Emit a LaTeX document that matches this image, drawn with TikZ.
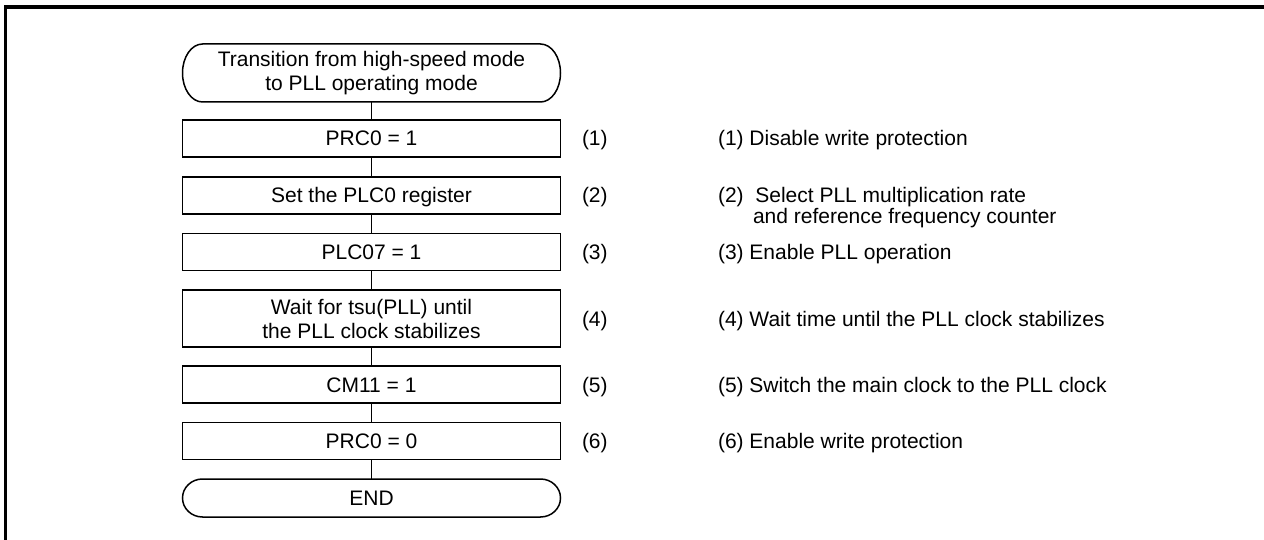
\documentclass[tikz,border=0pt]{standalone}
\usepackage{fontspec}
\setmainfont{Liberation Sans}
\begin{document}
\begin{tikzpicture}[x=1pt,y=1pt,
  every node/.style={font=\fontsize{21pt}{24pt}\selectfont, inner sep=0pt, outer sep=0pt},
  ln/.style={line width=1.5pt},
  stepbox/.style={draw, line width=1.5pt, minimum width=378pt, minimum height=37pt, text height=15pt, text depth=0pt},
  tallbox/.style={draw, line width=1.5pt, minimum width=378pt, minimum height=57pt, align=center},
  termnode/.style={minimum width=378pt, align=center},
  lab/.style={anchor=base west},
  frame/.style={line width=3.5pt}
]
\useasboundingbox (0,0) rectangle (1264,-540);
\draw[frame] (1264,-7) -- (5.5,-7) -- (5.5,-540);

% start terminal
\node[termnode, minimum height=58pt] (s) at (371.5,-73) {Transition from high-speed mode\\to PLL operating mode};
\draw[ln] ([xshift=20pt]s.north west) -- ([xshift=-20pt]s.north east)
  arc[start angle=90, end angle=-90, x radius=20pt, y radius=29pt]
  -- ([xshift=20pt]s.south west)
  arc[start angle=270, end angle=90, x radius=20pt, y radius=29pt] -- cycle;

\node[stepbox] (b1) at (371.5,-138.5) {PRC0 = 1};
\node[stepbox] (b2) at (371.5,-195.5) {Set the PLC0 register};
\node[stepbox] (b3) at (371.5,-252) {PLC07 = 1};
\node[tallbox] (b4) at (371.5,-318.5) {Wait for tsu(PLL) until\\the PLL clock stabilizes};
\node[stepbox] (b5) at (371.5,-384.5) {CM11 = 1};
\node[stepbox] (b6) at (371.5,-441) {PRC0 = 0};

% end terminal
\node[termnode, minimum height=38pt, text height=15pt, text depth=0pt] (e) at (371.5,-498) {END};
\draw[ln] ([xshift=20pt]e.north west) -- ([xshift=-20pt]e.north east)
  arc[start angle=90, end angle=-90, x radius=20pt, y radius=19pt]
  -- ([xshift=20pt]e.south west)
  arc[start angle=270, end angle=90, x radius=20pt, y radius=19pt] -- cycle;

% connectors
\draw[ln] (s) -- (b1);
\draw[ln] (b1) -- (b2);
\draw[ln] (b2) -- (b3);
\draw[ln] (b3) -- (b4);
\draw[ln] (b4) -- (b5);
\draw[ln] (b5) -- (b6);
\draw[ln] (b6) -- (e);

% step numbers
\node[lab] (l1) at (582,-146) {(1)};
\node[lab] (l2) at (582,-203) {(2)};
\node[lab] (l3) at (582,-259.5) {(3)};
\node[lab] (l4) at (582,-326) {(4)};
\node[lab] (l5) at (582,-392) {(5)};
\node[lab] (l6) at (582,-448.5) {(6)};

% descriptions
\node[lab] (d1) at (718,-146) {(1) Disable write protection};
\node[lab] (d2) at (718,-203) {(2)\ \ Select PLL multiplication rate};
\node[lab] (d2b) at (753,-224) {and reference frequency counter};
\node[lab] (d3) at (718,-259.5) {(3) Enable PLL operation};
\node[lab] (d4) at (718,-326) {(4) Wait time until the PLL clock stabilizes};
\node[lab] (d5) at (718,-392) {(5) Switch the main clock to the PLL clock};
\node[lab] (d6) at (718,-448.5) {(6) Enable write protection};
\end{tikzpicture}
\end{document}
